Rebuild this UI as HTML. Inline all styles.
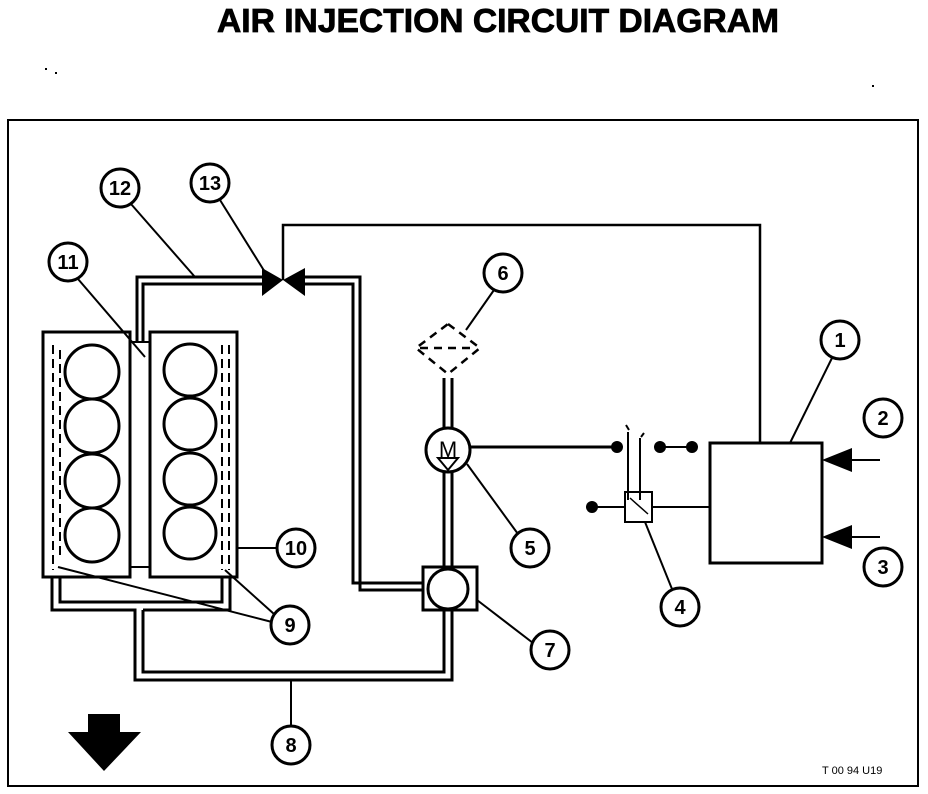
<!DOCTYPE html>
<html><head><meta charset="utf-8"><style>
html,body{margin:0;padding:0;background:#fff;}
svg{display:block;}
text{font-family:"Liberation Sans",sans-serif;font-weight:bold;}
</style></head><body>
<svg width="928" height="794" viewBox="0 0 928 794" xmlns="http://www.w3.org/2000/svg">
<text x="498" y="32" text-anchor="middle" font-size="33" stroke="#000" stroke-width="0.8" textLength="562" lengthAdjust="spacingAndGlyphs">AIR INJECTION CIRCUIT DIAGRAM</text>
<rect x="45" y="68" width="2" height="2"/><rect x="55" y="72" width="2" height="2"/><rect x="872" y="85" width="2" height="2"/>
<rect x="8" y="120" width="910" height="666" fill="none" stroke="#000" stroke-width="2"/>
<g fill="none" stroke="#000" stroke-width="3">
<rect x="43" y="332" width="87" height="245"/>
<rect x="150" y="332" width="87" height="245"/>
<rect x="130" y="342" width="20" height="225" stroke-width="2"/>
<circle cx="92" cy="372" r="27"/><circle cx="92" cy="426" r="27"/><circle cx="92" cy="481" r="27"/><circle cx="92" cy="535" r="27"/>
<circle cx="190" cy="370" r="26"/><circle cx="190" cy="424" r="26"/><circle cx="190" cy="479" r="26"/><circle cx="190" cy="533" r="26"/>
<path d="M53 345 V570 M60 350 V560 M222 345 V570 M229 345 V570" stroke-dasharray="9 5" stroke-width="2"/>
<path d="M137 342 V277 H265 M143 342 V284 H265"/>
<path d="M300 277 H360 V590 H423 M300 284 H353 V583 H423"/>
<path d="M283 280 V225 H760 V443" stroke-width="2.5"/>
<path d="M52 577 V610 H135 V680 H452 V610 M60 577 V602 H222 V577 M143 610 V672 H444 V610 M143 610 H230 V577"/>
<rect x="423" y="567" width="54" height="43"/>
<circle cx="448" cy="589" r="20"/>
<path d="M444 378 V428 M452 378 V428 M444 472 V567 M452 472 V567"/>
<circle cx="448" cy="450" r="22"/>
<path d="M448 324 L480 348 L448 374 L416 348 Z M420 348 H476" stroke-dasharray="8 6" stroke-width="2.5"/>
<path d="M470 447 H617"/>
<path d="M660 447 H692" stroke-width="2"/>
<path d="M628 432 V500 M640 438 V500 M626 425 l3 5 M644 433 l-3 4" stroke-width="2"/>
<rect x="625" y="492" width="27" height="30" stroke-width="2"/>
<path d="M630 498 L648 514" stroke-width="1.5"/>
<path d="M592 507 H625 M652 507 H710" stroke-width="2"/>
<rect x="710" y="443" width="112" height="120"/>
<path d="M850 460 H880 M850 537 H880" stroke-width="2"/>
<circle cx="840" cy="340" r="19"/><circle cx="883" cy="418" r="19"/><circle cx="883" cy="567" r="19"/>
<circle cx="680" cy="607" r="19"/><circle cx="530" cy="548" r="19"/><circle cx="503" cy="273" r="19"/>
<circle cx="550" cy="650" r="19"/><circle cx="291" cy="745" r="19"/><circle cx="290" cy="625" r="19"/>
<circle cx="296" cy="548" r="19"/><circle cx="68" cy="262" r="19"/><circle cx="120" cy="188" r="19"/><circle cx="210" cy="183" r="19"/>
<g stroke-width="2">
<path d="M832 358 L790 443"/><path d="M672 589 L645 522"/><path d="M518 534 L467 464"/><path d="M494 290 L466 330"/>
<path d="M533 643 L477 600"/><path d="M291 726 V680"/><path d="M272 622 L58 567 M274 614 L225 570"/>
<path d="M277 548 H237"/><path d="M78 279 L145 357"/><path d="M131 204 L195 277"/><path d="M220 200 L268 277"/>
</g>
</g>
<path d="M262 268 L283 280 L262 296 Z M305 268 L283 280 L305 296 Z"/>
<path d="M438 458 L458 458 L448 470 Z" fill="#fff" stroke="#000" stroke-width="2"/>
<text x="448" y="457" text-anchor="middle" font-size="22" style="font-weight:normal">M</text>
<circle cx="617" cy="447" r="6"/><circle cx="660" cy="447" r="6"/><circle cx="692" cy="447" r="6"/><circle cx="592" cy="507" r="6"/>
<path d="M822 460 L852 448 L852 472 Z M822 537 L852 525 L852 549 Z"/>
<path d="M88 714 H120 V732 H141 L104 771 L68 732 H88 Z"/>
<g font-size="20" text-anchor="middle">
<text x="840" y="347">1</text><text x="883" y="425">2</text><text x="883" y="574">3</text><text x="680" y="614">4</text>
<text x="530" y="555">5</text><text x="503" y="280">6</text><text x="550" y="657">7</text><text x="291" y="752">8</text>
<text x="290" y="632">9</text><text x="296" y="555">10</text><text x="68" y="269">11</text><text x="120" y="195">12</text><text x="210" y="190">13</text>
</g>
<text x="822" y="774" font-size="11" style="font-weight:normal">T 00 94 U19</text>
</svg>
</body></html>
